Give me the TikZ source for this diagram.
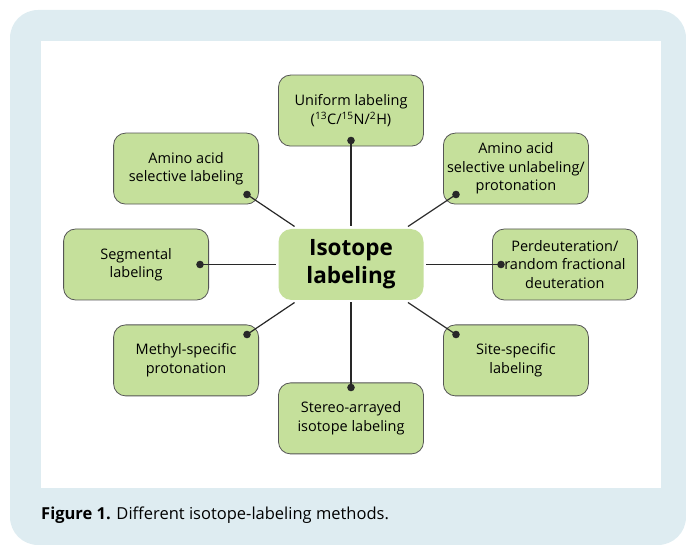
\documentclass[tikz,border=0pt]{standalone}
\usepackage{fontspec}
\setmainfont{Open Sans}
\usetikzlibrary{positioning, calc}

\definecolor{panelblue}{RGB}{222,236,241}
\definecolor{boxgreen}{RGB}{197,224,155}
\definecolor{edgegray}{RGB}{85,85,85}
\definecolor{linegray}{RGB}{40,40,40}

\begin{document}
\begin{tikzpicture}[
        x=1pt, y=1pt,
        box/.style={rectangle, draw=edgegray, line width=0.8pt, fill=boxgreen, rounded corners=12pt,
            minimum width=145pt, minimum height=71pt, align=center, inner sep=1pt,
            font=\fontsize{14.5}{18.5}\selectfont},
        hub/.style={rectangle, fill=boxgreen, rounded corners=13pt, minimum width=145pt,
            minimum height=71pt, align=center, outer sep=2.5pt,
            font=\fontsize{22.5}{28}\selectfont\bfseries},
        spoke/.style={draw=linegray, line width=1.2pt},
        dot/.style={fill=linegray}
    ]
        % panel
        \useasboundingbox (0,0) rectangle (686,-545);
        \fill[panelblue, rounded corners=28pt] (10,-10) rectangle (686,-545);
        \fill[white] (41,-41) rectangle (661,-488);

        \node[hub] (iso) at (351,-264.5) {Isotope\\labeling};

        \node[box, above=80pt of iso] (uniform) {Uniform labeling\\(\textsuperscript{13}C/\textsuperscript{15}N/\textsuperscript{2}H)};
        \node[box, below=80pt of iso] (stereo) {Stereo-arrayed\\isotope labeling};
        \node[box, left=67pt of iso] (segment) {Segmental\\labeling};
        \node[box, right=66pt of iso] (perdeut) {Perdeuteration/\\random fractional\\deuteration};
        \node[box, above left=22pt and 17pt of iso] (aaselect) {Amino acid\\selective labeling};
        \node[box, above right=22pt and 17pt of iso] (aaunlabel) {Amino acid\\selective unlabeling/\\protonation};
        \node[box, below left=22pt and 17pt of iso] (methyl) {Methyl-specific\\protonation};
        \node[box, below right=22pt and 17pt of iso] (site) {Site-specific\\labeling};

        % dot positions
        \coordinate (d1) at ($(uniform.south)+(0,6)$);
        \coordinate (d2) at ($(stereo.north)+(0,-5)$);
        \coordinate (d3) at ($(segment.east)+(-9,0)$);
        \coordinate (d4) at ($(perdeut.west)+(9,0)$);
        \coordinate (d5) at ($(aaselect.south east)+(-12,10)$);
        \coordinate (d6) at ($(aaunlabel.south west)+(13,10)$);
        \coordinate (d7) at ($(methyl.north east)+(-12,-10)$);
        \coordinate (d8) at ($(site.north west)+(13,-10)$);

        \foreach \d in {d1,d2,d3,d4,d5,d6,d7,d8} {
            \draw[spoke] (\d) -- (iso);
            \fill[dot] (\d) circle (3.8);
        }

        \node[anchor=west, inner sep=0pt, font=\fontsize{16.5}{19}\selectfont] (caption) at (41,-515)
            {\textbf{Figure 1.} Different isotope-labeling methods.};
    \end{tikzpicture}
\end{document}
